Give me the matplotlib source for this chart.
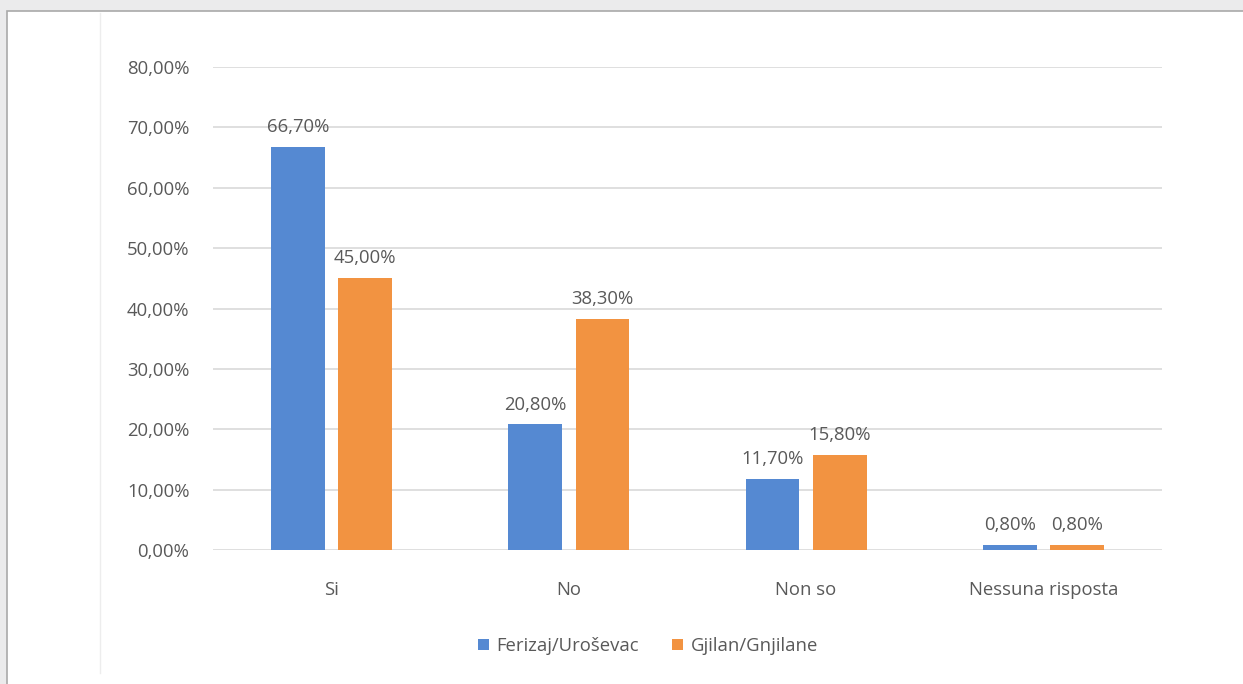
import matplotlib.pyplot as plt
import numpy as np
from matplotlib.patches import Rectangle
from matplotlib.lines import Line2D

categories = ['Si', 'No', 'Non so', 'Nessuna risposta']
ferizaj = [66.7, 20.8, 11.7, 0.8]
gjilan = [45.0, 38.3, 15.8, 0.8]
series_names = ['Ferizaj/Uroševac', 'Gjilan/Gnjilane']
yticks = [0, 10, 20, 30, 40, 50, 60, 70, 80]

plt.rcParams['font.family'] = ['Open Sans', 'DejaVu Sans']

W, H = 1243, 684
fig = plt.figure(figsize=(W / 100, H / 100), dpi=100, facecolor='#ebebec')

# white panel with thin border (top and left only visible)
fig.add_artist(Rectangle((7 / W, -0.01), 1.05, 1 - 11 / H + 0.01, transform=fig.transFigure,
                         facecolor='white', edgecolor='#a9a9a9', linewidth=1.2, zorder=-10))
fig.add_artist(Line2D([100 / W, 100 / W], [11 / H, 1 - 13 / H], transform=fig.transFigure,
                      color='#ededed', linewidth=1, zorder=-5))

ax = fig.add_axes([213 / W, 1 - 550 / H, (1162 - 213) / W, (550 - 67) / H])
ax.set_facecolor('none')

x = np.arange(len(categories))
w = 0.227
blue = '#5589d2'
orange = '#f29341'
b1 = ax.bar(x - 0.142, ferizaj, w, color=blue, zorder=3, label=series_names[0])
b2 = ax.bar(x + 0.142, gjilan, w, color=orange, zorder=3, label=series_names[1])

txt = '#595959'
fs = 13.3
for bars, vals in ((b1, ferizaj), (b2, gjilan)):
    for r, v in zip(bars, vals):
        ax.text(r.get_x() + r.get_width() / 2, v + 1.8, f'{v:.2f}%'.replace('.', ','),
                ha='center', va='bottom', fontsize=fs, color=txt)

ax.set_xlim(-0.5, len(categories) - 0.5)
ax.set_ylim(0, 80)
ax.set_yticks(yticks)
ax.set_yticklabels([f'{t:.2f}%'.replace('.', ',') for t in yticks])
ax.set_xticks(x)
ax.set_xticklabels(categories)
ax.tick_params(axis='both', length=0, labelsize=fs, labelcolor=txt)
ax.tick_params(axis='y', pad=17)
ax.tick_params(axis='x', pad=22)
ax.grid(axis='y', color='#d9d9d9', linewidth=1.2, zorder=0)
for s in ax.spines.values():
    s.set_visible(False)

ax.legend(loc='center', bbox_to_anchor=(648 / W, 1 - 646 / H), bbox_transform=fig.transFigure,
          ncol=2, frameon=False, fontsize=fs, labelcolor=txt, handlelength=0.6,
          handleheight=0.6, handletextpad=0.4, columnspacing=1.8)

fig.savefig('out.png', dpi=100, facecolor=fig.get_facecolor())
